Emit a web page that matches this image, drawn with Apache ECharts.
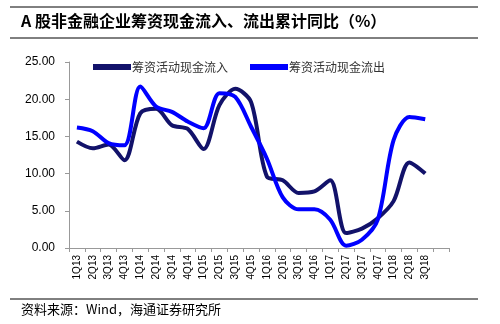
<!DOCTYPE html>
<html><head><meta charset="utf-8">
<script src="https://cdn.jsdelivr.net/npm/echarts@6/dist/echarts.min.js"></script>
<style>html,body{margin:0;padding:0;background:#fff}#c{width:500px;height:324px}</style>
</head><body><div id="c"></div>
<script>
const categories = ['1Q13','2Q13','3Q13','4Q13','1Q14','2Q14','3Q14','4Q14','1Q15','2Q15','3Q15','4Q15','1Q16','2Q16','3Q16','4Q16','1Q17','2Q17','3Q17','4Q17','1Q18','2Q18','3Q18',''];
const inflow = [14.3,13.4,13.9,11.8,18.1,18.7,16.5,16.0,13.3,19.2,21.4,19.6,9.6,9.1,7.4,7.6,9.1,2.0,2.6,4.0,6.3,11.5,10.0,null];
const outflow = [16.2,15.7,14.1,13.8,21.7,19.0,18.3,17.0,16.1,20.8,20.3,16.3,12.0,6.8,5.2,5.2,3.8,0.3,1.1,3.8,14.5,17.6,17.3,null];
const yTicks = [0,5,10,15,20,25];
const title = 'A 股非金融企业筹资现金流入、流出累计同比（%）';
const source = '资料来源：Wind，海通证券研究所';
const names = ['筹资活动现金流入','筹资活动现金流出'];

const chart = echarts.init(document.getElementById('c'));
chart.setOption({
  animation:false,
  backgroundColor:'#fff',
  graphic:[
    {type:'line',shape:{x1:10,y1:7,x2:478,y2:7},style:{stroke:'#000',lineWidth:1}},
    {type:'line',shape:{x1:10,y1:38,x2:478,y2:38},style:{stroke:'#000',lineWidth:1}},
    {type:'text',left:21,top:13,style:{text:title,font:'bold 16px "Noto Sans CJK SC", sans-serif',fill:'#000'}},
    {type:'line',shape:{x1:10,y1:299,x2:478,y2:299},style:{stroke:'#000',lineWidth:1}},
    {type:'text',left:21,top:303,style:{text:source,font:'13px "Noto Sans CJK SC", sans-serif',fill:'#000'}}
  ],
  legend:{
    top:56,left:88,itemGap:22,itemWidth:38,itemHeight:6,
    icon:'rect',
    textStyle:{fontSize:12,color:'#333',fontFamily:'"Noto Sans CJK SC", serif',padding:[0,0,0,-4]},
    data:names
  },
  grid:{left:69,right:51,top:62,bottom:76},
  xAxis:{
    type:'category',data:categories,boundaryGap:true,
    axisLine:{lineStyle:{color:'#999'}},
    axisTick:{show:true,length:4,lineStyle:{color:'#999'},interval:0},
    axisLabel:{rotate:90,interval:0,fontSize:10,color:'#000',fontFamily:'Arial, "Liberation Sans", sans-serif',margin:7}
  },
  yAxis:{
    type:'value',min:0,max:25,interval:5,
    axisLine:{show:true,lineStyle:{color:'#999'}},
    axisTick:{show:true,length:4,lineStyle:{color:'#999'}},
    splitLine:{show:false},
    axisLabel:{fontSize:12,color:'#000',fontFamily:'Arial, "Liberation Sans", sans-serif',margin:14,formatter:v=>v.toFixed(2)}
  },
  series:[
    {name:names[0],type:'line',data:inflow,smooth:0.3,symbol:'none',lineStyle:{width:4,color:'#12126a'},itemStyle:{color:'#12126a'}},
    {name:names[1],type:'line',data:outflow,smooth:0.3,symbol:'none',lineStyle:{width:4,color:'#0000ff'},itemStyle:{color:'#0000ff'}}
  ]
});
</script></body></html>
